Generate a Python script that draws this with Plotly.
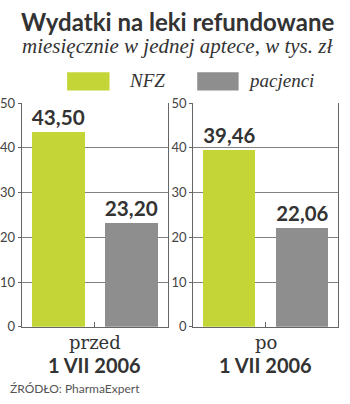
import plotly.graph_objects as go

series = ["NFZ", "pacjenci"]
periods = ["przed", "po"]
period_dates = ["1 VII 2006", "1 VII 2006"]
nfz = [43.50, 39.46]
pacjenci = [23.20, 22.06]
y_ticks = [0, 10, 20, 30, 40, 50]

GREEN = "#c4d637"
GRAY = "#8e8e8e"
TXT = "#333333"
colors = [GREEN, GRAY]

H = 404.0
W = 350.0


def py(pix):
    return (H - pix) / H


fig = go.Figure()

domains = [[17/W, 165/W], [191/W, 338/W]]
ydom = [py(332), py(99)]

for i in range(2):
    xa = "x" if i == 0 else "x2"
    ya = "y" if i == 0 else "y2"
    vals = [nfz[i], pacjenci[i]]
    fig.add_trace(go.Bar(
        x=[0, 1], y=vals, marker=dict(color=colors, line=dict(width=0)),
        width=0.72, xaxis=xa, yaxis=ya, showlegend=False,
        text=[f"{v:.2f}".replace(".", ",") for v in vals],
        textposition="outside", cliponaxis=False,
        textfont=dict(family="Lato", size=23, color=TXT, weight="bold"),
        hoverinfo="skip",
    ))
    sfx = "" if i == 0 else "2"
    fig.update_layout(**{
        f"xaxis{sfx}": dict(domain=domains[i], range=[-0.5, 1.5], tickvals=[0.5],
                            ticks="inside", ticklen=5, tickcolor="#666", showticklabels=False,
                            showline=True, linecolor="#666", linewidth=1, showgrid=False,
                            zeroline=False, anchor=ya, fixedrange=True),
        f"yaxis{sfx}": dict(domain=ydom, range=[0, 50], tickvals=y_ticks,
                            ticks="outside", ticklen=3, tickcolor="#666",
                            showline=True, linecolor="#666", linewidth=1, mirror=True,
                            showgrid=True, gridcolor="#808080", gridwidth=1, zeroline=False,
                            tickfont=dict(family="Lato", size=13, color="#444"),
                            anchor=xa, fixedrange=True, layer="below traces"),
    })
    cx = (domains[i][0] + domains[i][1]) / 2
    fig.add_annotation(x=cx, y=py(348), xref="paper", yref="paper",
                       xanchor="center", yanchor="middle",
                       text=periods[i], showarrow=False,
                       font=dict(family="DejaVu Serif", size=18, color=TXT))
    fig.add_annotation(x=cx, y=py(372), xref="paper", yref="paper",
                       xanchor="center", yanchor="middle",
                       text=f"<b>{period_dates[i]}</b>", showarrow=False,
                       font=dict(family="Lato", size=20, color=TXT))

# legend
leg_boxes = [(63, 106), (195, 237)]
leg_text_x = [124, 244]
for j in range(2):
    fig.add_shape(type="rect", xref="paper", yref="paper",
                  x0=leg_boxes[j][0]/W, x1=leg_boxes[j][1]/W,
                  y0=py(86), y1=py(67),
                  fillcolor=colors[j], line=dict(width=0))
    fig.add_annotation(x=leg_text_x[j]/W, y=py(76), xref="paper", yref="paper",
                       xanchor="left", yanchor="middle",
                       text=f"<i>{series[j]}</i>", showarrow=False,
                       font=dict(family="Liberation Serif", size=19, color=TXT))

fig.add_annotation(x=0.5, y=py(14), xref="paper", yref="paper",
                   xanchor="center", yanchor="middle",
                   text="<b>Wydatki na leki refundowane</b>", showarrow=False,
                   font=dict(family="Lato", size=24, color=TXT))
fig.add_annotation(x=0.5, y=py(40), xref="paper", yref="paper",
                   xanchor="center", yanchor="middle",
                   text="<i>miesięcznie w jednej aptece, w tys. zł</i>", showarrow=False,
                   font=dict(family="Liberation Serif", size=21, color=TXT))
fig.add_annotation(x=3/W, y=py(396), xref="paper", yref="paper",
                   xanchor="left", yanchor="middle",
                   text="ŹRÓDŁO: PharmaExpert", showarrow=False,
                   font=dict(family="Lato", size=12, color="#555"))

fig.update_layout(width=350, height=404, margin=dict(l=0, r=0, t=0, b=0),
                  paper_bgcolor="white", plot_bgcolor="white", bargap=0)
fig.write_html("out.html")
